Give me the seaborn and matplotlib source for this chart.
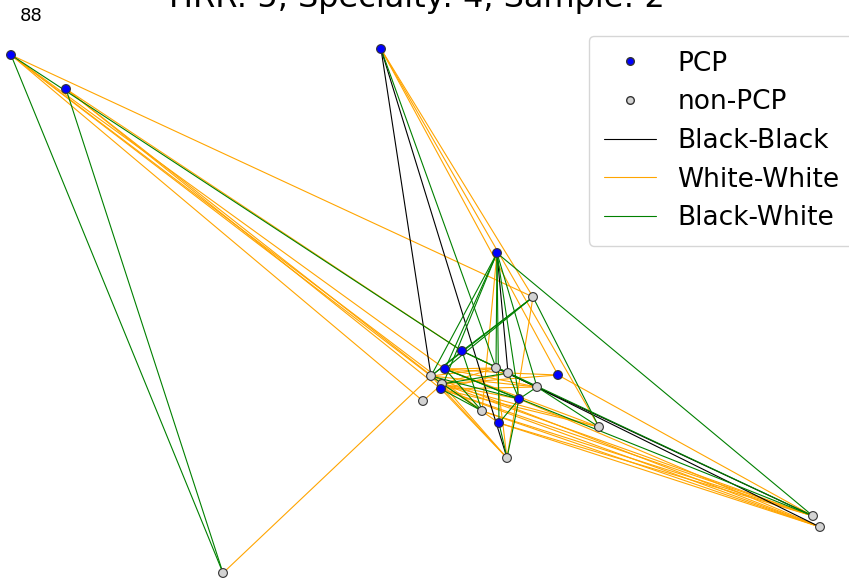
import numpy as np
import pandas as pd
import matplotlib
matplotlib.use("Agg")
import matplotlib.pyplot as plt
import seaborn as sns
from matplotlib.lines import Line2D

# ---- data ----
node_names = ["A","B","C","D","E","F","G","H","I","J","K","L","M","N","O","P","Q","R","S","T","U","V","W"]
node_x = [11, 66, 381, 497, 533, 462, 445, 431, 442, 441, 423, 496, 508, 558, 537, 519, 482, 499, 599, 507, 223, 813, 820]
node_y = [55, 89, 49, 253, 297, 351, 369, 376, 384, 389, 401, 368, 373, 375, 387, 399, 411, 423, 427, 458, 573, 516, 527]
node_pcp = [1, 1, 1, 1, 0, 1, 1, 0, 0, 1, 0, 0, 0, 1, 0, 1, 0, 1, 0, 0, 0, 0, 0]

edges_black = ["C-H", "C-T", "D-M", "M-W", "L-V"]
edges_white = ["A-E", "A-H", "A-K", "A-G", "A-Q", "B-F", "B-J", "B-I", "C-E", "C-S", "C-N",
               "U-H", "N-V", "N-M", "H-W", "J-V", "Q-W", "R-W", "R-V", "I-S", "J-S", "H-O",
               "J-O", "G-M", "H-L", "J-M", "I-L", "G-O", "I-P", "J-T", "I-T", "H-T", "L-T",
               "D-Q", "E-T", "Q-V", "P-W", "G-L", "I-N", "G-S", "K-I", "F-M", "H-R", "J-W", "I-V"]
edges_mixed = ["A-U", "B-U", "A-F", "D-V", "F-V", "G-V", "E-S", "C-L", "D-G", "D-J", "D-L",
               "D-P", "D-R", "D-O", "E-F", "E-G", "E-H", "F-H", "F-O", "F-Q", "G-P", "H-P",
               "P-R", "P-T", "R-T", "J-Q", "I-M", "M-P", "O-P", "H-Q", "O-S", "D-H", "G-Q"]

legend_labels = ["PCP", "non-PCP", "Black-Black", "White-White", "Black-White"]
title_text = "HRR: 5, Specialty: 4, Sample: 2"
corner_text = "88"

# ---- build tables ----
nodes = pd.DataFrame({"name": node_names, "x": node_x, "y": node_y,
                      "kind": ["PCP" if p else "non-PCP" for p in node_pcp]})
pos = nodes.set_index("name")[["x", "y"]]

rows = []
for kind, lst in [("White-White", edges_white), ("Black-Black", edges_black), ("Black-White", edges_mixed)]:
    for k, e in enumerate(lst):
        a, b = e.split("-")
        for n in (a, b):
            rows.append({"edge": f"{kind}{k}", "kind": kind, "x": pos.loc[n, "x"], "y": pos.loc[n, "y"]})
edges = pd.DataFrame(rows)

edge_colors = {"Black-Black": "black", "White-White": "orange", "Black-White": "green"}
node_colors = {"PCP": "blue", "non-PCP": "lightgray"}

sns.set_style("white")
plt.rcParams["text.color"] = "black"
fig = plt.figure(figsize=(8.49, 5.78), dpi=100)
ax = fig.add_axes([0, 0, 1, 1])

for kind in ["White-White", "Black-Black", "Black-White"]:
    sub = edges[edges.kind == kind]
    sns.lineplot(data=sub, x="x", y="y", units="edge", estimator=None, sort=False,
                 color=edge_colors[kind], linewidth=0.8, ax=ax, legend=False, zorder=1)

sns.scatterplot(data=nodes, x="x", y="y", hue="kind", palette=node_colors, s=40,
                edgecolor="#333333", linewidth=0.8, ax=ax, legend=False, zorder=3)

ax.set_xlim(0, 849)
ax.set_ylim(578, 0)
ax.axis("off")

handles = [
    Line2D([], [], marker="o", linestyle="", markerfacecolor="blue", markeredgecolor="#333333", markersize=5.5),
    Line2D([], [], marker="o", linestyle="", markerfacecolor="lightgray", markeredgecolor="#333333", markersize=5.5),
    Line2D([], [], color="black", linewidth=0.8),
    Line2D([], [], color="orange", linewidth=0.8),
    Line2D([], [], color="green", linewidth=0.8),
]
fig.legend(handles, legend_labels, loc="upper left", bbox_to_anchor=(589 / 849, 1 - 36 / 578),
           fontsize=19, labelspacing=0.48, frameon=True, borderpad=0.55, handletextpad=0.8,
           borderaxespad=0)

fig.text(417 / 849, 1 - 7 / 578, title_text, ha="center", va="baseline", fontsize=23, color="black")
fig.text(31 / 849, 1 - 16 / 578, corner_text, ha="center", va="center", fontsize=13, color="black")

fig.savefig("out.png", dpi=100)
